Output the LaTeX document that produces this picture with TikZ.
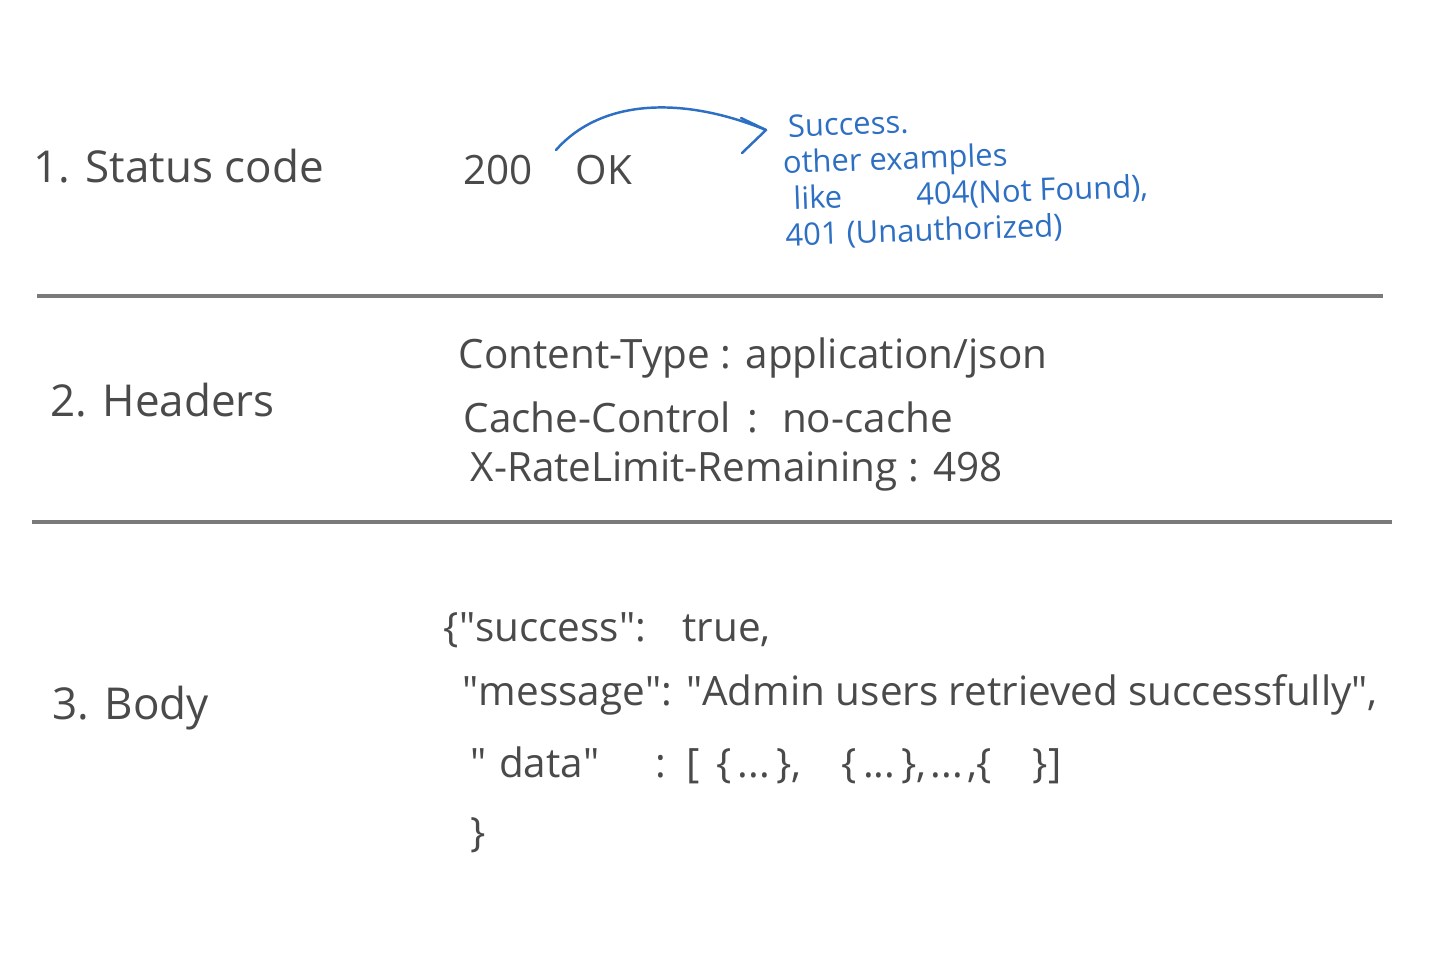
\documentclass[tikz,border=0pt]{standalone}
\usepackage{fontspec}
\setmainfont{Open Sans}
\usetikzlibrary{arrows.meta}
\definecolor{ink}{HTML}{4A4A4A}
\definecolor{pen}{HTML}{2D6FC2}
\definecolor{rule}{HTML}{7A7A7A}
\newcommand{\q}{\textquotedbl}
\tikzset{
  label/.style={anchor=west, inner sep=0pt, text=ink, font=\fontsize{12.5}{15}\selectfont},
  code/.style={anchor=west, inner sep=0pt, text=ink, font=\fontsize{11.5}{14}\selectfont},
  note/.style={anchor=west, inner sep=0pt, text=pen, align=left, font=\fontsize{8.8}{10.3}\selectfont},
  divider/.style={draw=rule, line width=1pt},
  curvearrow/.style={draw=pen, line width=0.7pt, line cap=round, line join=round}
}
\begin{document}
\begin{tikzpicture}[x=0.01cm,y=-0.01cm]
\useasboundingbox (0,0) rectangle (1440,960);
\fill[white] (0,0) rectangle (1440,960);
% section labels
\node[label] (l1) at (33,166) {1. Status code};
\node[label] (l2) at (50,400) {2. Headers};
\node[label] (l3) at (52,708) {3. Body};
% status
\node[code] (s200) at (463,170) {200};
\node[code] (sok) at (575,170) {OK};
\coordinate (arrs) at (556,150);
\coordinate (arre) at (766,130);
\draw[curvearrow] (arrs) .. controls (600,100) and (680,95) .. (arre);
\draw[curvearrow] (741,118) -- (arre) -- (742,153);
\node[note,rotate=2] (note) at (783,183) {\hspace{0.2em}Success.\\other examples\\\hspace{0.3em}like\hspace{2.4em}404(Not Found),\\401 (Unauthorized)};
% dividers
\coordinate (d1a) at (37,296); \coordinate (d1b) at (1383,296);
\coordinate (d2a) at (32,522); \coordinate (d2b) at (1392,522);
\draw[divider] (d1a) -- (d1b);
\draw[divider] (d2a) -- (d2b);
% headers
\node[code] (h1) at (458,358) {Content-Type : application/json};
\node[code] (h2) at (463,417) {Cache-Control\hspace{0.4em}:\hspace{0.6em}no-cache};
\node[code] (h3) at (470,472) {X-RateLimit-Remaining : 498};
% body
\node[code] (b1) at (443,630) {\{\q success\q :\hspace{0.9em}true,};
\node[code] (b2) at (462,695) {\q message\q : \q Admin users retrieved successfully\q ,};
\node[code] (b3) at (470,765) {\q\hspace{0.3em}data\q\hspace{1.4em}:\hspace{0.5em}[\hspace{0.4em}\{\hspace{0.15em}...\hspace{0.15em}\},\hspace{1em}\{\hspace{0.15em}...\hspace{0.15em}\},\hspace{0.1em}...\hspace{0.1em},\{\hspace{1em}\}]};
\node[code] (b4) at (470,835) {\}};
\end{tikzpicture}
\end{document}
